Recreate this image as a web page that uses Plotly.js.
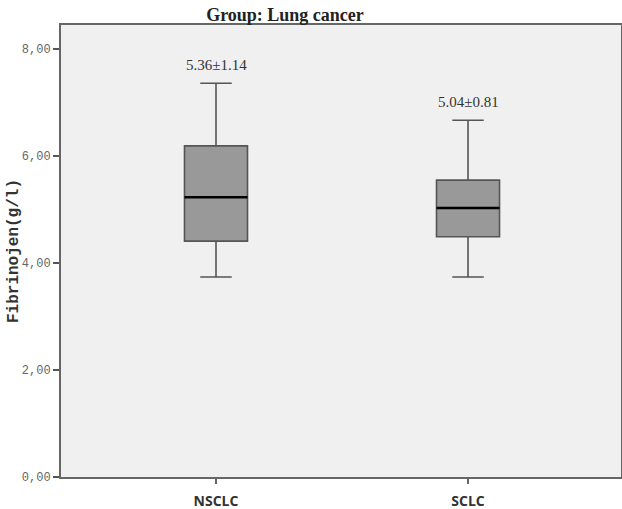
<!DOCTYPE html>
<html>
<head>
<meta charset="utf-8">
<script src="https://cdn.plot.ly/plotly-3.0.1.min.js"></script>
<style>html,body{margin:0;padding:0;background:#fff;}</style>
</head>
<body>
<div id="chart" style="width:622px;height:509px;"></div>
<script>
const groups = ["NSCLC", "SCLC"];
const upperWhisker = [7.36, 6.67];
const q3 = [6.19, 5.55];
const median = [5.23, 5.03];
const q1 = [4.41, 4.49];
const lowerWhisker = [3.74, 3.74];
const meanSdLabels = ["5.36±1.14", "5.04±0.81"];
const yTicks = [0, 2, 4, 6, 8];

const boxHalf = 0.125;
const xs = groups.map((g, i) => i);

const traces = [{
  type: "box",
  x: xs,
  q1: q1,
  median: median,
  q3: q3,
  lowerfence: lowerWhisker,
  upperfence: upperWhisker,
  width: boxHalf * 2,
  whiskerwidth: 0.5,
  fillcolor: "#999999",
  line: {color: "#555555", width: 1.6},
  boxpoints: false,
  hoverinfo: "skip",
  showlegend: false
}];
groups.forEach((g, i) => {
  traces.push({
    type: "scatter",
    mode: "lines",
    x: [xs[i] - boxHalf, xs[i] + boxHalf],
    y: [median[i], median[i]],
    line: {color: "#000000", width: 2.6},
    hoverinfo: "skip",
    showlegend: false
  });
});

const annotations = groups.map((g, i) => ({
  x: xs[i], y: upperWhisker[i], xref: "x", yref: "y",
  text: meanSdLabels[i], showarrow: false,
  yanchor: "bottom", yshift: 8,
  font: {family: "Liberation Serif, serif", size: 15, color: "#333333"}
}));
annotations.push({
  x: 0, y: 0.5, xref: "paper", yref: "paper",
  xanchor: "center", yanchor: "middle", xshift: -47,
  textangle: -90, showarrow: false,
  text: "<b>Fibrinojen(g/l)</b>",
  font: {family: "Liberation Mono, monospace", size: 16, color: "#333333"}
});

const layout = {
  width: 622, height: 509,
  margin: {l: 61, r: 1, t: 25, b: 32},
  paper_bgcolor: "#ffffff",
  plot_bgcolor: "#f0f0f0",
  separators: ",.",
  showlegend: false,
  title: {
    text: "<b>Group: Lung cancer</b>",
    x: 0.4, xref: "paper", xanchor: "center",
    y: 0.972, yanchor: "middle",
    font: {family: "Liberation Serif, serif", size: 18, color: "#222222"}
  },
  xaxis: {
    range: [-0.615, 1.607],
    tickmode: "array", tickvals: xs, ticktext: groups,
    ticks: "outside", ticklen: 5, tickwidth: 2, tickcolor: "#666666",
    ticklabelstandoff: 5,
    showgrid: false, zeroline: false,
    showline: true, linecolor: "#666666", linewidth: 2, mirror: true,
    tickfont: {family: "Open Sans, sans-serif", size: 14, color: "#333333", weight: "bold"}
  },
  yaxis: {
    range: [0, 8.45],
    tickmode: "array", tickvals: yTicks,
    tickformat: ".2f",
    ticks: "outside", ticklen: 6, tickwidth: 2, tickcolor: "#555555",
    showgrid: false, zeroline: false,
    showline: true, linecolor: "#666666", linewidth: 2, mirror: true,
    tickfont: {family: "Liberation Mono, monospace", size: 12, color: "#666666"}
  },
  annotations: annotations
};

Plotly.newPlot("chart", traces, layout, {displayModeBar: false, staticPlot: true});
</script>
</body>
</html>
